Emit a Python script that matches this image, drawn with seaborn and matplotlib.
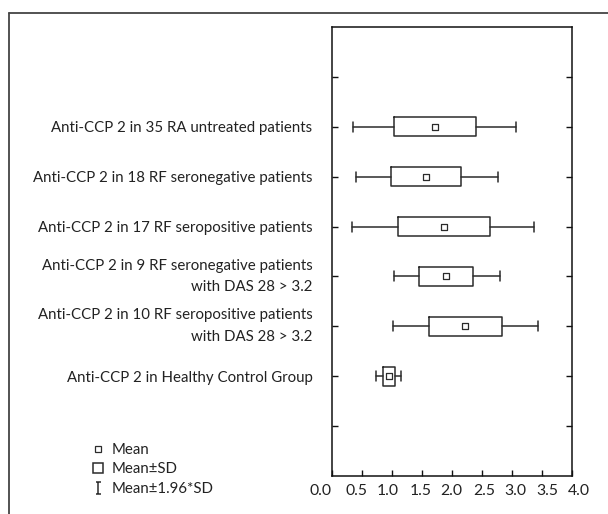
import numpy as np
import matplotlib
matplotlib.use("Agg")
import matplotlib.pyplot as plt
import matplotlib.transforms as mtransforms
import seaborn as sns
import pandas as pd
from matplotlib.lines import Line2D
from matplotlib.path import Path

# ---- data ----
groups = [
    "Anti-CCP 2 in 35 RA untreated patients",
    "Anti-CCP 2 in 18 RF seronegative patients",
    "Anti-CCP 2 in 17 RF seropositive patients",
    "Anti-CCP 2 in 9 RF seronegative patients\nwith DAS 28 > 3.2",
    "Anti-CCP 2 in 10 RF seropositive patients\nwith DAS 28 > 3.2",
    "Anti-CCP 2 in Healthy Control Group",
]
means = [1.71, 1.56, 1.86, 1.90, 2.22, 0.95]
sd_low = [1.03, 0.985, 1.105, 1.455, 1.615, 0.845]
sd_high = [2.40, 2.155, 2.635, 2.355, 2.84, 1.05]
ci_low = [0.345, 0.395, 0.335, 1.03, 1.01, 0.735]
ci_high = [3.07, 2.76, 3.36, 2.80, 3.44, 1.155]
x_ticks = [0.0, 0.5, 1.0, 1.5, 2.0, 2.5, 3.0, 3.5, 4.0]
legend_labels = ["Mean", "Mean\u00b1SD", "Mean\u00b11.96*SD"]

# horizontal nudges (pixels) of the x tick labels, as printed in the source figure
label_nudge_px = [-12, -6, -4, -1.5, -0.5, 1.8, 3.5, 5.8, 7.2]

sns.set_style("ticks")
plt.rcParams["font.family"] = ["Lato", "DejaVu Sans"]
FS = 10.8
ink = "#2b2b2b"

fig = plt.figure(figsize=(6.08, 5.14), dpi=100)
ax = fig.add_axes([332 / 608, 38 / 514, 240 / 608, 449 / 514])

positions = np.arange(2, 2 + len(groups))
stats = []
for lab, m, a, b, lo, hi in zip(groups, means, sd_low, sd_high, ci_low, ci_high):
    stats.append(dict(label=lab, med=m, q1=a, q3=b, whislo=lo, whishi=hi, fliers=[]))

line_kw = dict(color=ink, linewidth=1.1)
ax.bxp(stats, positions=positions, vert=False, widths=0.38, capwidths=0.2,
       showfliers=False, patch_artist=False,
       boxprops=line_kw, whiskerprops=line_kw, capprops=line_kw,
       medianprops=dict(visible=False), manage_ticks=False)

df = pd.DataFrame({"mean": means, "pos": positions})
sns.scatterplot(data=df, x="mean", y="pos", marker="s", s=16, color="white",
                edgecolor=ink, linewidth=0.9, ax=ax, zorder=5, legend=False)

ax.set_xlim(0, 4)
ax.set_ylim(9, 0)
ax.set_xticks(x_ticks)
ax.set_xticklabels([f"{v:.1f}" for v in x_ticks], fontsize=11.3, color="#222222")
ax.set_yticks(np.arange(1, 9))
ax.set_yticklabels([""] + groups + [""], fontsize=FS, color="#222222")
for t in ax.get_yticklabels():
    t.set_linespacing(1.7)
    if "\n" in t.get_text():
        t.set_verticalalignment("center")
ax.set_xlabel("")
ax.set_ylabel("")
for s in ax.spines.values():
    s.set_visible(True)
    s.set_linewidth(1.1)
    s.set_color("#111111")
ax.tick_params(axis="y", direction="in", left=True, right=True, length=4,
               width=1.0, pad=14, color="#111111")
ax.tick_params(axis="x", direction="in", bottom=True, top=False, length=4,
               width=1.0, pad=6, color="#111111")
for lbl, dx in zip(ax.get_xticklabels(), label_nudge_px):
    lbl.set_transform(lbl.get_transform() +
                      mtransforms.ScaledTranslation(dx / 100, 0, fig.dpi_scale_trans))

# outer frame (top and left lines)
fig.add_artist(Line2D([9 / 608, 9 / 608], [0, 1 - 13 / 514], transform=fig.transFigure,
                      color="#444444", linewidth=1.3))
fig.add_artist(Line2D([9 / 608, 1.0], [1 - 13 / 514, 1 - 13 / 514], transform=fig.transFigure,
                      color="#444444", linewidth=1.3))

# legend
cap = Path([(-0.45, 1), (0.45, 1), (0, 1), (0, -1), (-0.45, -1), (0.45, -1)],
           [Path.MOVETO, Path.LINETO, Path.MOVETO, Path.LINETO, Path.MOVETO, Path.LINETO])
handles = [
    Line2D([], [], linestyle="none", marker="s", markersize=4, markerfacecolor="white",
           markeredgecolor=ink, markeredgewidth=0.9),
    Line2D([], [], linestyle="none", marker="s", markersize=7.5, markerfacecolor="white",
           markeredgecolor=ink, markeredgewidth=1.1),
    Line2D([], [], linestyle="none", marker=cap, markersize=8, markerfacecolor="none",
           markeredgecolor=ink, markeredgewidth=1.1),
]
fig.legend(handles, legend_labels, loc="upper left",
           bbox_to_anchor=(90 / 608, 1 - 443 / 514), frameon=False, fontsize=FS,
           handlelength=1.0, handletextpad=0.45, labelspacing=0.36, borderpad=0,
           borderaxespad=0, labelcolor="#222222")

fig.savefig("out.png", dpi=100)
